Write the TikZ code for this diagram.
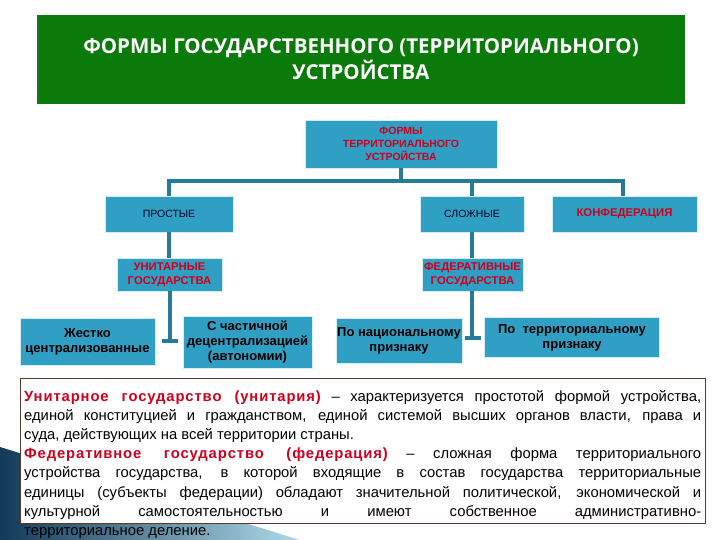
\documentclass[tikz,border=0pt]{standalone}
\usepackage{fontspec}
\setmainfont{Liberation Sans}
\newfontfamily\titlefont{Open Sans}
\usepackage{xcolor}
\usepackage{tikz}
\usetikzlibrary{positioning, calc}
\definecolor{ttlgreen}{RGB}{10, 122, 10}
\definecolor{boxblue}{RGB}{47, 160, 196}
\definecolor{linkblue}{RGB}{38, 124, 150}
\definecolor{txtred}{RGB}{205, 0, 30}
\definecolor{frame}{RGB}{90, 55, 40}
\definecolor{swdark}{RGB}{18, 58, 88}
\definecolor{swlight}{RGB}{175, 218, 232}
\newcommand{\term}[1]{\textcolor{txtred}{\bfseries\addfontfeature{LetterSpace=6}#1}}

\begin{document}
\begin{tikzpicture}[
    x=1pt, y=-1pt,
    title/.style={fill=ttlgreen, text=white, minimum width=648pt, minimum height=89pt,
                  align=center, inner sep=0pt,
                  font=\titlefont\bfseries\fontsize{20.5}{26}\selectfont},
    box/.style={fill=boxblue, draw=white!80!boxblue, line width=0.6pt,
                align=center, inner sep=1pt},
    redcap/.style={box, text=txtred, font=\bfseries\fontsize{11.3}{14}\selectfont},
    plaincap/.style={box, text=black!85!blue, font=\fontsize{10.5}{12}\selectfont},
    leaf/.style={box, text=black, font=\bfseries\fontsize{13}{15}\selectfont},
    conn/.style={draw=linkblue, line width=3.5pt},
  ]
    \useasboundingbox (0,0) rectangle (720,540);
    % Title
    \node[title] (ttl) at (361,59.5)
      {ФОРМЫ ГОСУДАРСТВЕННОГО (ТЕРРИТОРИАЛЬНОГО)\\УСТРОЙСТВА};
    % Root of the tree
    \node[redcap, minimum width=192pt, minimum height=48pt,
          font=\bfseries\fontsize{10.5}{13}\selectfont] (root) at (401,144)
      {ФОРМЫ\\ТЕРРИТОРИАЛЬНОГО\\УСТРОЙСТВА};
    % Second level
    \node[plaincap, minimum width=128pt, minimum height=36pt] (simple) at (169,214) {ПРОСТЫЕ};
    \node[plaincap, minimum width=104pt, minimum height=36pt] (complex) at (472,214) {СЛОЖНЫЕ};
    \node[redcap, minimum width=145pt, minimum height=36pt] (confed) at (624.5,214) {КОНФЕДЕРАЦИЯ};
    % Third level
    \node[redcap, minimum width=105pt, minimum height=33pt] (unitary) at (169.5,274.5)
      {УНИТАРНЫЕ\\ГОСУДАРСТВА};
    \node[redcap, minimum width=101pt, minimum height=33pt] (federal) at (472.5,274.5)
      {ФЕДЕРАТИВНЫЕ\\ГОСУДАРСТВА};
    % Leaves
    \node[leaf, minimum width=135pt, minimum height=47pt] (rigid) at (87.5,341.5)
      {Жестко\\централизованные};
    \node[leaf, minimum width=129pt, minimum height=52pt] (partial) at (247.5,342)
      {С частичной\\децентрализацией\\(автономии)};
    \node[leaf, minimum width=126pt, minimum height=45pt] (national) at (399,340.5)
      {По национальному\\признаку};
    \node[leaf, minimum width=175pt, minimum height=40pt] (territorial) at (572,337.5)
      {По\ \ территориальному\\признаку};

    % Connectors
    \coordinate (bar) at (401,181);
    \draw[conn] (root.south) -- (bar);
    \draw[conn] (bar) -| (simple.north);
    \draw[conn] (bar) -| (complex.north);
    \draw[conn] (bar) -| ($(confed.north)+(-1.5,0)$);
    \draw[conn] (simple.south) -- (simple.south |- unitary.north);
    \draw[conn] (complex.south) -- (complex.south |- federal.north);
    \coordinate (ujoin) at (170,341);
    \coordinate (uleft) at (162,341);
    \coordinate (uright) at (178,341);
    \draw[conn] (ujoin |- unitary.south) -- (ujoin);
    \draw[conn] (uleft) -- (uright);
    \coordinate (fjoin) at (472,338);
    \coordinate (fleft) at (465,338);
    \coordinate (fright) at (481,338);
    \draw[conn] (fjoin |- federal.south) -- (fjoin);
    \draw[conn] (fleft) -- (fright);

    % Corner ribbon and text frame
    \shade[left color=swdark, right color=swlight] (0,447) -- (300,540) -- (0,540) -- cycle;
    \draw[frame, fill=white, line width=1pt] (20,378) rectangle (705,523);
    \node[anchor=north west, inner sep=0pt, text width=677pt, align=justify,
          font=\fontsize{14.8}{19.2}\selectfont] (defs) at (24,390)
      {\term{Унитарное государство (унитария)} -- характеризуется простотой формой устройства,\linebreak
       единой конституцией и гражданством, единой системой высших органов власти, права и\linebreak
       суда, действующих на всей территории страны.\par
       \term{Федеративное государство (федерация)} -- сложная форма территориального\linebreak
       устройства государства, в которой входящие в состав государства территориальные\linebreak
       единицы (субъекты федерации) обладают значительной политической, экономической и\linebreak
       культурной самостоятельностью и имеют собственное административно-\linebreak
       территориальное деление.};
  \end{tikzpicture}
\end{document}
